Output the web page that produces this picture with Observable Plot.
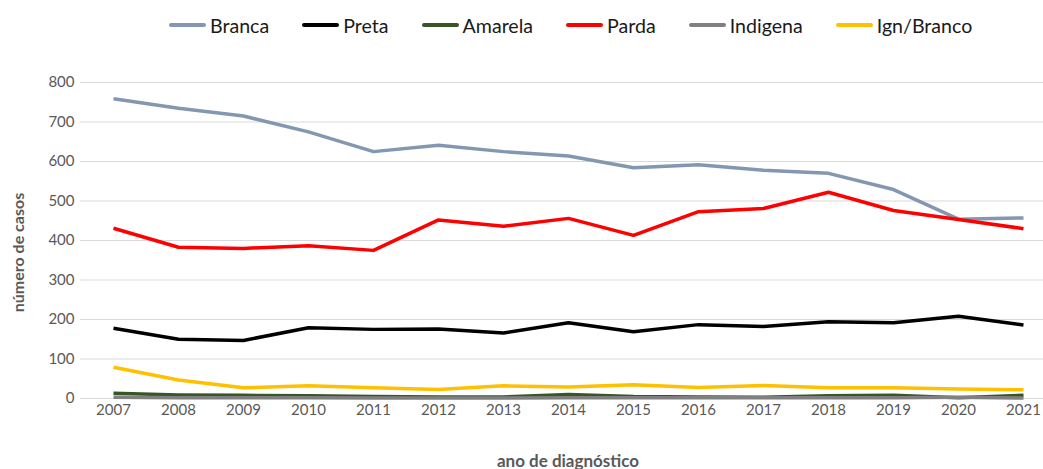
<!DOCTYPE html>
<html><head><meta charset="utf-8">
<script src="https://cdn.jsdelivr.net/npm/d3@7"></script>
<script src="https://cdn.jsdelivr.net/npm/@observablehq/plot@0.6"></script>
<style>
body{margin:0;background:#fff;font-family:Lato,sans-serif;}
#legend{height:50px;display:flex;align-items:center;padding-left:169px;box-sizing:border-box;}
.item{display:flex;align-items:center;margin-right:33px;font-size:19.6px;color:#1a1a1a;}
.sw{width:37px;height:4px;margin-right:4px;border-radius:2px;}
#chart svg{display:block;}
</style></head><body>
<div id="legend"></div><div id="chart"></div>
<script>
const years = [2007,2008,2009,2010,2011,2012,2013,2014,2015,2016,2017,2018,2019,2020,2021];
const branca    = [759,735,715,675,625,641,625,614,584,592,578,570,529,454,457];
const preta     = [178,150,147,179,175,176,166,192,169,187,182,194,192,208,186];
const amarela   = [13,9,8,7,5,4,4,10,5,4,3,7,8,2,8];
const parda     = [431,383,380,387,375,452,436,456,413,473,481,522,476,453,430];
const indigena  = [3,2,2,2,1,1,1,2,2,2,2,2,2,3,1];
const ignBranco = [79,47,27,32,27,23,32,29,35,28,33,27,27,24,22];
const seriesNames  = ["Branca","Preta","Amarela","Parda","Indigena","Ign/Branco"];
const seriesValues = [branca,preta,amarela,parda,indigena,ignBranco];
const seriesColors = ["#8497b0","#000000","#375623","#ff0000","#808080","#ffc000"];
const yTicks = [0,100,200,300,400,500,600,700,800];
const xLabel = "ano de diagnóstico";
const yLabel = "número de casos";

const data = [];
seriesNames.forEach((s,i)=>years.forEach((yr,j)=>data.push({series:s,year:yr,value:seriesValues[i][j]})));

const legend = document.getElementById("legend");
seriesNames.forEach((s,i)=>{
  const it = document.createElement("div"); it.className="item";
  const sw = document.createElement("span"); sw.className="sw"; sw.style.background=seriesColors[i];
  const tx = document.createElement("span"); tx.textContent=s;
  it.appendChild(sw); it.appendChild(tx); legend.appendChild(it);
});

const chart = Plot.plot({
  width:1043, height:419,
  marginLeft:80, marginRight:0, marginTop:32, marginBottom:71,
  style:{fontFamily:"Lato, sans-serif", fontSize:"15px", color:"#595959", background:"white", overflow:"visible"},
  x:{type:"point", domain:years, range:[112.3,1022.7], padding:0},
  y:{domain:[0,800]},
  color:{domain:seriesNames, range:seriesColors},
  marks:[
    Plot.ruleY(yTicks,{stroke:"#d9d9d9", strokeWidth:1.2}),
    Plot.axisY({ticks:yTicks, tickSize:0, tickPadding:6, label:null, fontSize:15}),
    Plot.axisX({tickSize:0, tickPadding:6, label:null, fontSize:15, tickFormat:d=>String(d)}),
    Plot.line(data,{x:"year", y:"value", z:"series", stroke:"series", strokeWidth:3.5, strokeLinejoin:"round", strokeLinecap:"butt"}),
    Plot.text([yLabel],{frameAnchor:"left", textAnchor:"middle", rotate:-90, dx:-62, dy:12, fontWeight:"bold", fontSize:16}),
    Plot.text([xLabel],{frameAnchor:"bottom", dx:6, dy:68, fontWeight:"bold", fontSize:17})
  ]
});
document.getElementById("chart").appendChild(chart);
</script>
</body></html>
